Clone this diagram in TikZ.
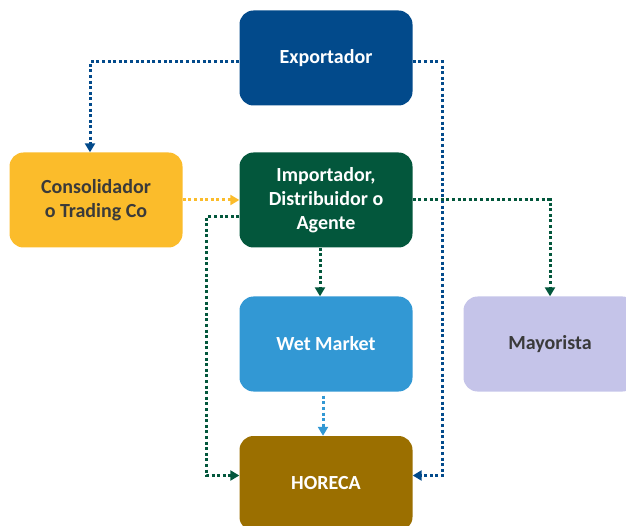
\documentclass[tikz,border=0pt]{standalone}
\usepackage{fontspec}
\setmainfont{Carlito}
\usepackage{tikz}
\usetikzlibrary{arrows.meta,positioning}
\definecolor{expblue}{HTML}{024A8B}
\definecolor{impgreen}{HTML}{03573C}
\definecolor{conyellow}{HTML}{FBBC2B}
\definecolor{wetblue}{HTML}{3298D4}
\definecolor{maylav}{HTML}{C5C4E9}
\definecolor{horgold}{HTML}{9B6F00}
\definecolor{darktext}{HTML}{3A3A3A}
\tikzstyle{box}  =[rectangle, rounded corners=14pt, minimum width=173pt,
                   minimum height=95pt, align=center, text=white,
                   font=\fontsize{20}{24}\selectfont\bfseries]
\tikzstyle{link} =[line width=3pt, dash pattern=on 3pt off 2.6pt,
                   -{Triangle[length=9pt,width=10pt]}]

\begin{document}
\begin{tikzpicture}[node distance=142pt, on grid]
            \useasboundingbox (0,0) rectangle (626pt,-526pt);
            \node (exp) [box, fill=expblue] at (326pt,-58pt) {Exportador};
            \node (imp) [box, fill=impgreen, below=142pt of exp]
                {Importador,\\Distribuidor o\\Agente};
            \node (con) [box, fill=conyellow, text=darktext, left=230pt of imp]
                {Consolidador\\o Trading Co};
            \node (wet) [box, fill=wetblue, below=144pt of imp] {Wet Market};
            \node (may) [box, fill=maylav, text=darktext, right=224pt of wet]
                {Mayorista};
            \node (hor) [box, fill=horgold, below=139.5pt of wet] {HORECA};
            \draw[link, expblue] ([yshift=-4pt]exp.west) -| ([xshift=-6pt]con.north);
            \draw[link, expblue] ([yshift=-4pt]exp.east) -- ++(30pt,0)
                |- ([yshift=8pt]hor.east);
            \draw[link, conyellow] (con.east) -- (imp.west);
            \draw[link, impgreen] (imp.east) -| (may.north);
            \draw[link, impgreen] ([yshift=-17pt]imp.west) -- ++(-33pt,0)
                |- ([yshift=8pt]hor.west);
            \draw[link, impgreen] ([xshift=-6pt]imp.south) -- ([xshift=-6pt]wet.north);
            \draw[link, wetblue] ([xshift=-3pt,yshift=-4pt]wet.south) -- ([xshift=-3pt]hor.north);

        \end{tikzpicture}
\end{document}
